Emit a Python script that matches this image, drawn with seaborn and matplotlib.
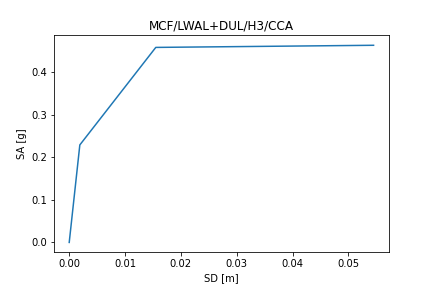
import matplotlib
matplotlib.use("Agg")
import matplotlib.pyplot as plt
import seaborn as sns
import pandas as pd

sd_m = [0.0, 0.0019, 0.0155, 0.0545]
sa_g = [0.0, 0.229, 0.458, 0.463]

df = pd.DataFrame({"SD": sd_m, "SA": sa_g})

fig, ax = plt.subplots(figsize=(6, 4), dpi=72)
fig.subplots_adjust(left=0.125, right=0.9, top=0.877, bottom=0.124)
sns.lineplot(data=df, x="SD", y="SA", sort=False, ax=ax, color="#1f77b4")
ax.set_title("MCF/LWAL+DUL/H3/CCA")
ax.set_xlabel("SD [m]")
ax.set_ylabel("SA [g]")
fig.savefig("out.png", dpi=72)
